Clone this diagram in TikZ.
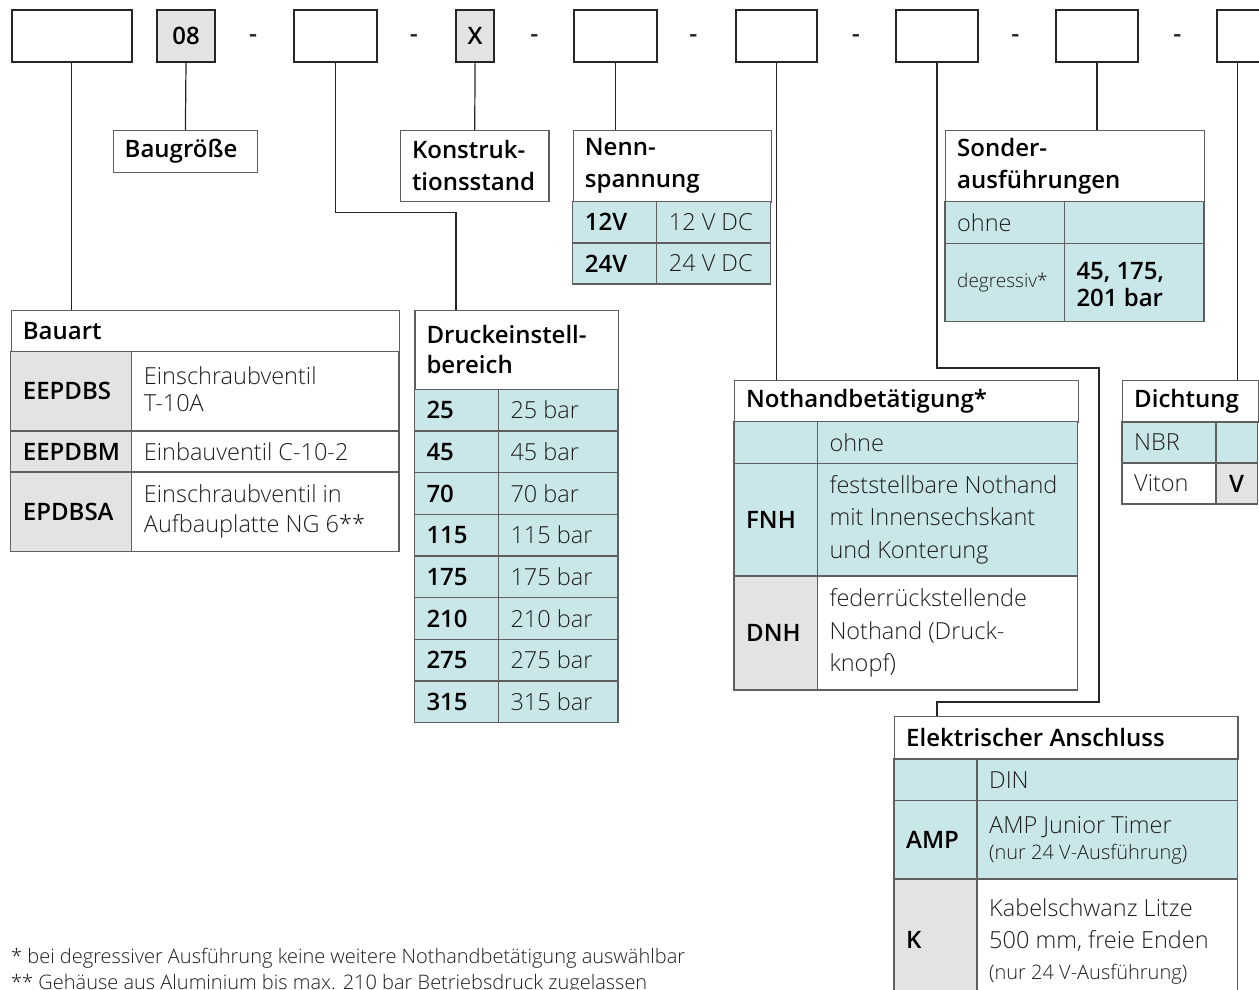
\documentclass[tikz,border=0pt]{standalone}
\usepackage{fontspec}
\setmainfont{Open Sans}[BoldFont={Open Sans Semibold}]
\newfontfamily\lightfont{Open Sans Light}
\definecolor{tealc}{RGB}{201,230,232}
\definecolor{grayc}{RGB}{227,227,227}
\definecolor{gridc}{RGB}{95,95,95}
\definecolor{txtc}{RGB}{30,30,30}
\newcommand{\myfont}{\lightfont\fontsize{23.5}{32}\selectfont}
\newcommand{\keyfont}{\fontsize{24}{32}\selectfont\bfseries}
\newcommand{\hdfont}{\fontsize{24}{32}\selectfont\bfseries}
\newcommand{\mysmall}{\fontsize{20}{24}\selectfont}
\newcommand{\notefont}{\lightfont\fontsize{20}{24}\selectfont}
\begin{document}
\begin{tikzpicture}[x=1pt,y=-1pt,
  topbox/.style={draw=black!85,line width=2pt,anchor=north west,inner sep=0pt,font=\keyfont,minimum height=51.7pt},
  cell/.style={draw=gridc,line width=1.2pt},
  hbox/.style={cell,fill=white,anchor=north west,inner sep=0pt},
  conn/.style={draw=black!85,line width=1.2pt},
  hd/.style={font=\hdfont,anchor=west,align=left,inner sep=0pt},
  key/.style={font=\keyfont,anchor=west,inner sep=0pt},
  val/.style={font=\myfont,text=txtc,anchor=west,align=left,inner sep=0pt},
  dashsym/.style={font=\fontsize{25}{30}\selectfont\bfseries,text=black!85,inner sep=0pt},
  note/.style={font=\notefont,text=txtc,anchor=west,inner sep=0pt}]
\useasboundingbox (0,0) rectangle (1259,990);
\fill[white] (0,0) rectangle (1259,990);

% ---------- top row ----------
\node[topbox,minimum width=119.8pt] (b1) at (10.8,9.3) {};
\node[topbox,fill=grayc,minimum width=58pt] (b2) at (156,9.3) {08};
\node[topbox,minimum width=82.4pt] (b3) at (293.3,9.3) {};
\node[topbox,fill=grayc,minimum width=38.6pt] (b4) at (454.8,9.3) {X};
\node[topbox,minimum width=83.3pt] (b5) at (572.5,9.3) {};
\node[topbox,minimum width=81.1pt] (b6) at (734.7,9.3) {};
\node[topbox,minimum width=81.1pt] (b7) at (895.4,9.3) {};
\node[topbox,minimum width=82.3pt] (b8) at (1054.9,9.3) {};
\node[topbox,minimum width=43.6pt] (b9) at (1216.4,9.3) {};
\node[dashsym] (d1) at (253.1,38.5) {-};
\node[dashsym] (d2) at (413.8,38.5) {-};
\node[dashsym] (d3) at (534.4,38.5) {-};
\node[dashsym] (d4) at (693.3,38.5) {-};
\node[dashsym] (d5) at (856,38.5) {-};
\node[dashsym] (d6) at (1015.5,38.5) {-};
\node[dashsym] (d7) at (1177.4,38.5) {-};

% ---------- Baugroesse ----------
\node[hbox,minimum width=144.6pt,minimum height=41.7pt] (baug) at (112.5,130) {};
\node[hd] (baugt) at (124.5,150.8) {Baugröße};

% ---------- Konstruktionsstand ----------
\node[hbox,minimum width=148.6pt,minimum height=71pt] (konst) at (399.8,130) {};
\node[hd] (konstt) at (411.8,165.5) {Konstruk-\\tionsstand};

% ---------- Nennspannung ----------
\node[hbox,minimum width=198pt,minimum height=71.7pt] (nenn) at (572.7,130) {};
\node[hd] (nennt) at (584.7,165.8) {Nenn-\\spannung};
\path[cell,fill=tealc] (572.7,201.7) rectangle (656.7,243);
\path[cell,fill=tealc] (656.7,201.7) rectangle (770.7,243);
\path[cell,fill=tealc] (572.7,243) rectangle (656.7,284);
\path[cell,fill=tealc] (656.7,243) rectangle (770.7,284);
\node[key] (n12k) at (584.7,222.3) {12V};
\node[val] (n12v) at (668.7,222.3) {12 V DC};
\node[key] (n24k) at (584.7,263.5) {24V};
\node[val] (n24v) at (668.7,263.5) {24 V DC};

% ---------- Druckeinstellbereich ----------
\node[hbox,minimum width=203.7pt,minimum height=79pt] (druck) at (414.3,310) {};
\node[hd] (druckt) at (426.3,349.6) {Druckeinstell-\\[-2pt]bereich};
\foreach \k/\ya/\yb in {25/389.3/431,45/431/472.7,70/472.7/514.3,115/514.3/556,175/556/597.7,210/597.7/639.3,275/639.3/681,315/681/722.7}{
  \path[cell,fill=tealc] (414.3,\ya) rectangle (498.3,\yb);
  \path[cell,fill=tealc] (498.3,\ya) rectangle (618,\yb);
  \node[key] (dk\k) at (426.3,{(\ya+\yb)/2}) {\k};
  \node[val] (dv\k) at (510.3,{(\ya+\yb)/2}) {\k\ bar};
}

% ---------- Bauart ----------
\node[hbox,minimum width=388.3pt,minimum height=41.7pt] (bauart) at (10.7,310) {};
\node[hd] (bauartt) at (22.7,330.8) {Bauart};
\path[cell,fill=grayc] (10.7,351.7) rectangle (131.7,431);
\path[cell,fill=white] (131.7,351.7) rectangle (399,431);
\path[cell,fill=grayc] (10.7,431) rectangle (131.7,472);
\path[cell,fill=white] (131.7,431) rectangle (399,472);
\path[cell,fill=grayc] (10.7,472) rectangle (131.7,551.7);
\path[cell,fill=white] (131.7,472) rectangle (399,551.7);
\node[key] (ba1k) at (22.7,391.3) {EEPDBS};
\node[val] (ba1v) at (143.7,389) {Einschraubventil\\[-5pt]T-10A};
\node[key] (ba2k) at (22.7,451.5) {EEPDBM};
\node[val] (ba2v) at (143.7,451.5) {Einbauventil C-10-2};
\node[key] (ba3k) at (22.7,511.8) {EPDBSA};
\node[val] (ba3v) at (143.7,511.8) {Einschraubventil in\\[-2pt]Aufbauplatte NG 6**};

% ---------- Sonderausfuehrungen ----------
\node[hbox,minimum width=259pt,minimum height=71.7pt] (sonder) at (945,130) {};
\node[hd] (sondert) at (957,165.8) {Sonder-\\ausführungen};
\path[cell,fill=tealc] (945,201.7) rectangle (1064.3,243.3);
\path[cell,fill=tealc] (1064.3,201.7) rectangle (1204,243.3);
\path[cell,fill=tealc] (945,243.3) rectangle (1064.3,321.7);
\path[cell,fill=tealc] (1064.3,243.3) rectangle (1204,321.7);
\node[val] (so1) at (957,222.5) {ohne};
\node[val,font=\lightfont\fontsize{19}{24}\selectfont] (so2) at (957,282.5) {degressiv*};
\node[hd] (so2k) at (1076.3,285) {45, 175,\\[-5pt]201 bar};

% ---------- Nothandbetaetigung ----------
\node[hbox,minimum width=343.7pt,minimum height=41.7pt] (noth) at (734,380) {};
\node[hd] (notht) at (746,400.8) {Nothandbetätigung*};
\path[cell,fill=tealc] (734,421.7) rectangle (817.3,463.3);
\path[cell,fill=tealc] (817.3,421.7) rectangle (1077.7,463.3);
\path[cell,fill=tealc] (734,463.3) rectangle (817.3,576);
\path[cell,fill=tealc] (817.3,463.3) rectangle (1077.7,576);
\path[cell,fill=grayc] (734,576) rectangle (817.3,690);
\path[cell,fill=white] (817.3,576) rectangle (1077.7,690);
\node[val] (no1v) at (829.3,442.5) {ohne};
\node[key] (no2k) at (746,519.7) {FNH};
\node[val] (no2v) at (829.3,519.7) {feststellbare Nothand\\[0.5pt]mit Innensechskant\\[0.5pt]und Konterung};
\node[key] (no3k) at (746,633) {DNH};
\node[val] (no3v) at (829.3,633) {federrückstellende\\[0.5pt]Nothand (Druck-\\[0.5pt]knopf)};

% ---------- Dichtung ----------
\node[hbox,minimum width=135.5pt,minimum height=42pt] (dicht) at (1122,380) {};
\node[hd] (dichtt) at (1134,401) {Dichtung};
\path[cell,fill=tealc] (1122,422) rectangle (1216,463);
\path[cell,fill=tealc] (1216,422) rectangle (1257.5,463);
\path[cell,fill=white] (1122,463) rectangle (1216,504);
\path[cell,fill=grayc] (1216,463) rectangle (1257.5,504);
\node[val] (di1v) at (1134,442.5) {NBR};
\node[val] (di2v) at (1134,483.5) {Viton};
\node[key,anchor=center] (di2k) at (1236.7,483.5) {V};

% ---------- Elektrischer Anschluss ----------
\node[hbox,minimum width=343.3pt,minimum height=43pt] (elek) at (894,716) {};
\node[hd] (elekt) at (906,737.5) {Elektrischer Anschluss};
\path[cell,fill=tealc] (894,759) rectangle (977,800.7);
\path[cell,fill=tealc] (977,759) rectangle (1237.3,800.7);
\path[cell,fill=tealc] (894,800.7) rectangle (977,879);
\path[cell,fill=tealc] (977,800.7) rectangle (1237.3,879);
\path[cell,fill=grayc] (894,879) rectangle (977,1001);
\path[cell,fill=white] (977,879) rectangle (1237.3,1001);
\node[val] (el1v) at (989,779.8) {DIN};
\node[key] (el2k) at (906,839.8) {AMP};
\node[val] (el2v) at (989,840.5) {AMP Junior Timer\\[-6pt]{\mysmall (nur 24 V-Ausführung)}};
\node[key] (el3k) at (906,940) {K};
\node[val] (el3v) at (989,941) {Kabelschwanz Litze\\500 mm, freie Enden\\[-1pt]{\mysmall (nur 24 V-Ausführung)}};

% ---------- connectors ----------
\coordinate (c3) at (456,212.7);
\coordinate (c7a) at (1099,368);
\coordinate (c7b) at (1099,702);
\draw[conn] (b1.south) -- (b1.south |- bauart.north);
\draw[conn] (b2.south) -- (baug.north);
\draw[conn] (b3.south) |- (c3) -- (c3 |- druck.north);
\draw[conn] (b4.south) -- (konst.north);
\draw[conn] (b5.south) -- (b5.south |- nenn.north);
\draw[conn] (b6.south) -- (b6.south |- noth.north);
\draw[conn] (b7.south) |- (c7a) -- (c7b) -| (b7.south |- elek.north);
\draw[conn] (b8.south) -- (b8.south |- sonder.north);
\draw[conn] ([xshift=-1.5pt]b9.south) -- ([xshift=-1.5pt]b9.south |- dicht.north);

% ---------- footnotes ----------
\node[note] (fn1) at (11,958) {* bei degressiver Ausführung keine weitere Nothandbetätigung auswählbar};
\node[note] (fn2) at (11,984) {** Gehäuse aus Aluminium bis max. 210 bar Betriebsdruck zugelassen};
\end{tikzpicture}
\end{document}
